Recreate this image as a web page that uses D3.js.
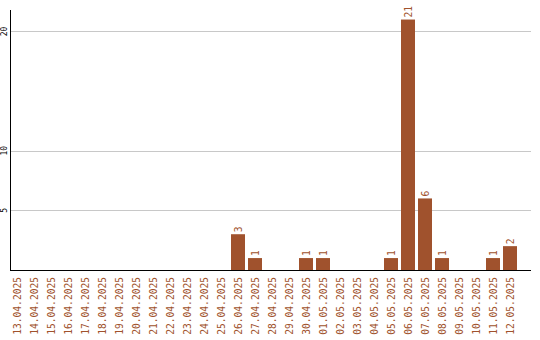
<!DOCTYPE html>
<html><head><meta charset="utf-8">
<script src="https://cdn.jsdelivr.net/npm/d3@7"></script>
<style>body{margin:0;background:#fff}svg{display:block}</style>
</head><body>
<script>
const categories = ["13.04.2025","14.04.2025","15.04.2025","16.04.2025","17.04.2025","18.04.2025","19.04.2025","20.04.2025","21.04.2025","22.04.2025","23.04.2025","24.04.2025","25.04.2025","26.04.2025","27.04.2025","28.04.2025","29.04.2025","30.04.2025","01.05.2025","02.05.2025","03.05.2025","04.05.2025","05.05.2025","06.05.2025","07.05.2025","08.05.2025","09.05.2025","10.05.2025","11.05.2025","12.05.2025"];
const values = [0,0,0,0,0,0,0,0,0,0,0,0,0,3,1,0,0,1,1,0,0,0,1,21,6,1,0,0,1,2];
const yTicks = [5,10,20];

const W=540,H=340;
const svg=d3.select("body").append("svg").attr("width",W).attr("height",H);
const brown="#a0522d";
const font="'DejaVu Sans Mono', monospace";
const x=d3.scaleBand().domain(categories).range([10,517]).paddingInner(3/17);
const y=d3.scaleLinear().domain([0,21.8]).range([270,10]);

svg.append("g").selectAll("line").data(yTicks).join("line")
  .attr("x1",10.5).attr("x2",531).attr("y1",d=>Math.round(y(d))+0.5).attr("y2",d=>Math.round(y(d))+0.5)
  .attr("stroke","#c8c8c8").attr("stroke-width",1);

svg.append("g").selectAll("text").data(yTicks).join("text")
  .attr("transform",d=>`translate(7,${y(d)}) rotate(-90)`)
  .attr("text-anchor","middle").attr("font-family",font).attr("font-size",8).attr("fill","#000")
  .text(d=>d);

svg.append("g").selectAll("rect").data(values.map((v,i)=>({c:categories[i],v}))).join("rect")
  .attr("x",d=>x(d.c)).attr("width",x.bandwidth())
  .attr("y",d=>y(d.v)).attr("height",d=>y(0)-y(d.v))
  .attr("fill",brown);

svg.append("g").selectAll("text").data(values.map((v,i)=>({c:categories[i],v})).filter(d=>d.v>0)).join("text")
  .attr("transform",d=>`translate(${x(d.c)+x.bandwidth()/2+3.5},${y(d.v)-2}) rotate(-90)`)
  .attr("text-anchor","start").attr("font-family",font).attr("font-size",9.6).attr("fill",brown)
  .text(d=>d.v);

svg.append("line").attr("x1",10.5).attr("x2",10.5).attr("y1",10).attr("y2",270.5).attr("stroke","#000");
svg.append("line").attr("x1",10).attr("x2",531).attr("y1",270.5).attr("y2",270.5).attr("stroke","#000");

svg.append("g").selectAll("text").data(categories).join("text")
  .attr("transform",d=>`translate(${x(d)+x.bandwidth()/2+3.5},277) rotate(-90)`)
  .attr("text-anchor","end").attr("font-family",font).attr("font-size",9.6).attr("fill",brown)
  .text(d=>d);
</script>
</body></html>
